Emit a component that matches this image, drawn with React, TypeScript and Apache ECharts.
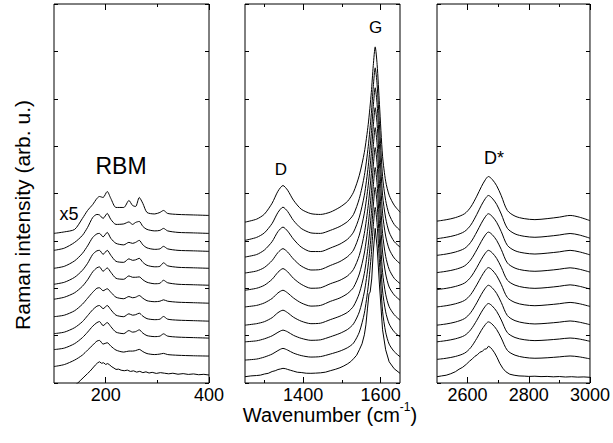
import React, { useEffect, useRef } from "react";
import * as echarts from "echarts";

const FONT = "'Liberation Sans', Arial, Helvetica, sans-serif";

// ---------- Panel 1: RBM region (x 100-400 cm-1) ----------
const RBM_X = [100, 120, 140, 155, 165, 175, 183, 188, 195, 203, 210, 220, 235, 245, 252, 258, 265, 272, 280, 295, 305, 312, 320, 340, 370, 400];
const RBM_10 = [150, 151.5, 154, 165, 173, 179, 185, 187, 186, 192, 185, 176, 176, 183, 178, 177, 186, 180, 171, 169.5, 171, 173, 170, 169, 168.5, 168];
const RBM_9 = [133, 135.2, 141, 148, 156, 166, 169, 168.5, 165, 170, 164, 159, 159.5, 161.5, 159, 161, 162, 157, 154, 152.5, 153, 155, 152.5, 151, 150.5, 150];
const RBM_8 = [115, 117, 122.5, 130, 137.5, 146, 149.5, 150, 146.5, 151, 145, 140, 138.5, 141, 140, 141, 143, 138.5, 135.5, 134, 134.5, 137, 134.5, 133, 132.5, 132];
const RBM_7 = [99, 101, 106, 113, 120, 129, 132.5, 133, 129, 133, 128, 122, 121, 124.5, 123, 123.5, 125, 121, 118, 116.5, 117, 120.5, 117.5, 116, 115.5, 115];
const RBM_6 = [84, 86, 90.5, 97, 103.5, 111.5, 115.5, 116.4, 112, 115.4, 111, 105, 104, 107.4, 106, 106, 106.4, 103.5, 101, 99.5, 100, 103, 100.5, 99, 98.5, 98];
const RBM_5 = [66.5, 68, 72.5, 79, 85, 91, 95, 95.5, 92.5, 94.5, 91, 86, 84.5, 86.7, 85.5, 86, 87.7, 85, 82.5, 81.5, 82, 83.4, 82, 81, 80.5, 80];
const RBM_4 = [49.5, 51, 55.5, 61.5, 67.5, 73.5, 77, 77.7, 74.5, 77.7, 73.5, 68, 66.5, 69.4, 68, 68.5, 70, 67, 64.5, 63.5, 64, 66.7, 64, 63, 62.5, 62];
const RBM_3 = [33.5, 35, 39.5, 45.5, 51, 57, 60.5, 61.6, 57.5, 60.6, 56.5, 51, 49.5, 52.6, 51, 51.5, 53.3, 50, 47.5, 46.5, 47, 49.3, 47, 46, 45.5, 45];
const RBM_2 = [16.5, 18.5, 23, 28, 33, 38, 42, 42.7, 39, 40.4, 37, 33, 31, 32, 32, 32.5, 33.7, 31.5, 29.5, 28.5, 29, 29.7, 28.5, 27.8, 27.3, 27];
const RBM_RAW_X = [138, 146, 152, 158, 165, 170, 175, 180, 184, 188, 192, 196, 200, 204, 208, 212, 216, 220, 225, 230, 236, 242, 248, 254, 260, 266, 272, 278, 284, 290, 298, 306, 314, 322, 330, 340, 350, 360, 370, 380, 390, 400];
const RBM_RAW = [-3, 0, 3, 6, 9.5, 12, 15, 18, 20, 21.3, 19.8, 20.3, 18.6, 19.5, 18, 16.2, 15, 13.6, 13.9, 12.8, 12.3, 12.9, 11.6, 12.2, 10.9, 11.7, 10.4, 11.2, 10, 10.7, 9.6, 10.4, 9.8, 9.2, 9.8, 8.8, 9.4, 8.6, 9.1, 8.3, 8.7, 8];

// ---------- Panel 2: D and G bands (x 1250-1650 cm-1) ----------
const DG_X = [1250, 1280, 1300, 1320, 1335, 1348, 1360, 1375, 1395, 1420, 1445, 1470, 1495, 1515, 1530, 1545, 1558, 1568, 1576, 1581, 1586, 1591, 1597, 1605, 1613, 1622, 1635, 1650];
const DG_10 = [161.3, 164.3, 169.3, 180.3, 192.3, 198, 193.3, 183.3, 174.3, 169.8, 169, 171.3, 176.3, 182.3, 191.3, 208.3, 231.3, 259.3, 291.3, 318.3, 337, 319.3, 279.3, 227.3, 202.3, 188.3, 178.3, 171.3];
const DG_9 = [143, 146, 150.5, 160, 171, 176.3, 172, 163, 155, 150.5, 150, 153, 157, 162, 169, 185, 208, 237, 270, 297, 316, 299, 259, 207, 183, 169, 159, 153];
const DG_8 = [126.3, 128.8, 133.3, 141.8, 151.8, 156.3, 152.3, 144.3, 136.3, 131.8, 131.8, 135.3, 139.3, 144.3, 151.3, 166.3, 188.3, 217.3, 250.3, 277.3, 296, 279.3, 239.3, 188.3, 165.3, 151.3, 141.8, 136.3];
const DG_7 = [110.3, 112.3, 115.8, 122.8, 130.8, 134.7, 131.3, 124.3, 117.3, 113.3, 113.8, 117.8, 121.8, 126.8, 133.3, 148.3, 170.3, 198.3, 230.3, 257.3, 276, 259.3, 220.3, 170.3, 147.3, 134.3, 125.3, 119.7];
const DG_6 = [93, 95, 98, 104, 111, 114.7, 111.5, 105, 99, 95, 95.5, 99.5, 103, 107.5, 114, 128, 150, 178, 210, 237, 256, 239, 200, 150, 127, 114, 105, 99.7];
const DG_5 = [76.3, 77.8, 80.3, 84.8, 90.3, 93, 90.3, 85.3, 80.3, 77.1, 77.8, 81.8, 85.3, 89.8, 95.8, 109.3, 130.3, 158.3, 190.3, 217.3, 236, 219.3, 180.3, 131.3, 109.3, 96.3, 88.3, 83];
const DG_4 = [58, 59.5, 61.5, 65.5, 70.5, 73, 70.5, 66, 62, 59.5, 60, 63.5, 67, 71, 77, 90, 110, 138, 170, 197, 216, 199, 160, 111, 89, 76.5, 68.5, 63];
const DG_3 = [41.3, 42.3, 44.3, 47.3, 50.8, 53, 51.3, 47.8, 44.8, 42.8, 43.3, 46.3, 49.8, 53.8, 59.3, 71.3, 91.3, 118.3, 150.3, 177.3, 196, 179.3, 141.3, 92.3, 71.3, 59.3, 51.3, 46.3];
const DG_2 = [23, 24, 26, 29, 32.5, 34.7, 33, 30, 27.5, 26, 26.5, 29, 32, 35.5, 40, 51, 70, 97, 129, 157, 176, 159, 121, 72, 51, 39, 31.5, 26.3];
const DG_RAW_X = [1250, 1265, 1280, 1290, 1300, 1310, 1320, 1328, 1335, 1342, 1348, 1355, 1360, 1368, 1375, 1385, 1395, 1408, 1420, 1432, 1445, 1458, 1470, 1483, 1495, 1505, 1515, 1523, 1530, 1538, 1545, 1552, 1558, 1562, 1566, 1570, 1573, 1577, 1581, 1586, 1591, 1597, 1605, 1613, 1622, 1635, 1650];
const DG_RAW = [6.3, 7.1, 7.5, 7.9, 9, 9.7, 11.5, 12.3, 13.5, 14.1, 14.7, 14.3, 13.6, 12.7, 11.9, 10.8, 10.5, 9.8, 9.7, 9.9, 10.2, 10.9, 12.3, 13.7, 15.3, 17.1, 19.3, 21.5, 24.3, 27.8, 33.3, 39.3, 48.3, 58.3, 74.3, 89.3, 91.3, 104.3, 131.3, 155, 136.3, 98.3, 53.3, 33.3, 21.3, 14.3, 9.7];

// ---------- Panel 3: D* band (x 2500-3000 cm-1) ----------
const DS_X = [2500, 2530, 2560, 2590, 2610, 2630, 2645, 2658, 2668, 2680, 2695, 2710, 2730, 2755, 2785, 2820, 2860, 2900, 2935, 2965, 3000];
const DS_10 = [162.3, 163.7, 165.8, 169.7, 176.3, 187.3, 196.8, 203.8, 207, 204.3, 197.8, 187.8, 173, 167.3, 164.8, 163.8, 164.8, 166.3, 168, 166.3, 162.8];
const DS_9 = [144.7, 146.1, 148.1, 151.9, 158.2, 169, 178.2, 184.9, 188, 185.4, 179.1, 169.4, 155.1, 149.5, 147.1, 146.1, 147, 148.4, 149.9, 148.4, 145.2];
const DS_8 = [128, 129.3, 131.3, 134.9, 141, 151.4, 160.2, 166.7, 169.7, 167.2, 161.1, 151.8, 138, 132.6, 130.3, 129.3, 130.2, 131.5, 133, 131.5, 128.5];
const DS_7 = [110.7, 112, 113.9, 117.4, 123.4, 133.5, 142, 148.4, 151.3, 148.9, 143, 133.9, 120.4, 115.2, 112.9, 112, 112.8, 114.1, 115.5, 114.1, 111.2];
const DS_6 = [93.7, 94.9, 96.8, 100.2, 106, 115.7, 124, 130.2, 133, 130.7, 124.9, 116.1, 103.1, 98.1, 95.8, 94.9, 95.7, 97, 98.4, 97, 94.2];
const DS_5 = [76.3, 77.5, 79.4, 82.8, 88.6, 98.4, 106.7, 112.9, 115.7, 113.4, 107.6, 98.8, 85.7, 80.7, 78.4, 77.5, 78.3, 79.5, 80.8, 79.5, 76.8];
const DS_4 = [58, 59.2, 61.1, 64.6, 70.5, 80.4, 88.9, 95.1, 98, 95.6, 89.8, 80.8, 67.6, 62.5, 60.2, 59.2, 59.9, 61, 62.2, 61, 58.5];
const DS_3 = [41.3, 42.5, 44.3, 47.6, 53.3, 62.8, 71, 77, 79.7, 77.4, 71.8, 63.2, 50.5, 45.6, 43.4, 42.5, 43.1, 44.1, 45.1, 44.1, 41.8];
const DS_2 = [23.7, 24.8, 26.6, 29.9, 35.4, 44.7, 52.8, 58.6, 61.3, 59.1, 53.6, 45.1, 32.7, 27.9, 25.7, 24.8, 25.3, 26.2, 27.1, 26.2, 24.2];
const DS_RAW_X = [2500, 2515, 2530, 2545, 2560, 2572, 2584, 2596, 2606, 2616, 2624, 2632, 2640, 2648, 2655, 2662, 2668, 2674, 2680, 2688, 2696, 2705, 2715, 2725, 2738, 2752, 2768, 2785, 2800, 2820, 2840, 2860, 2880, 2900, 2920, 2940, 2960, 2980, 3000];
const DS_RAW = [6.3, 7.1, 7.8, 9.3, 11.3, 13.8, 15.8, 18.8, 21.8, 24.3, 26.8, 28.3, 30.8, 31.8, 33.8, 34.3, 36.8, 35.8, 33.8, 30.3, 25.8, 19.8, 14.8, 11.3, 8.8, 7.8, 7.1, 6.9, 6.6, 6.8, 6.4, 6.6, 6.2, 6.5, 6, 6.3, 5.9, 6.1, 5.7];

// ---------- Axes ----------
const X_RANGES = [[100, 400], [1250, 1650], [2500, 3000]];
const X_MAJOR = [[200, 400], [1400, 1600], [2600, 2800, 3000]];
const X_MINOR = [[300], [1300, 1500], [2700, 2900]];
const Y_MAX = 380;
const Y_STEP = 47.5;

const PANEL_LEFT = [54, 245, 437];
const PANEL_WIDTH = 155;

export default function App() {
  const ref = useRef<HTMLDivElement>(null);

  useEffect(() => {
    if (!ref.current) return;
    const chart = echarts.init(ref.current, null, { renderer: "svg" });

    const grids = PANEL_LEFT.map((l) => ({
      left: l,
      top: 4,
      width: PANEL_WIDTH,
      height: 379,
      show: true,
      borderColor: "#000",
      borderWidth: 1,
      backgroundColor: "transparent",
    }));

    const xAxes: any[] = [];
    const yAxes: any[] = [];
    for (let g = 0; g < 3; g++) {
      const [mn, mx] = X_RANGES[g];
      const base = {
        gridIndex: g,
        type: "value",
        min: mn,
        max: mx,
        axisLine: { show: false },
        splitLine: { show: false },
      };
      xAxes.push({
        ...base,
        position: "bottom",
        axisTick: { show: true, inside: true, length: 6, customValues: X_MAJOR[g], lineStyle: { color: "#000", width: 1 } },
        axisLabel: {
          show: true,
          customValues: X_MAJOR[g],
          formatter: (v: number) => String(v),
          color: "#000",
          fontSize: 18,
          fontFamily: FONT,
          margin: 3,
          showMinLabel: true,
          showMaxLabel: true,
        },
      });
      xAxes.push({
        ...base,
        position: "bottom",
        axisTick: { show: true, inside: true, length: 3, customValues: X_MINOR[g], lineStyle: { color: "#000", width: 1 } },
        axisLabel: { show: false },
      });
      xAxes.push({
        ...base,
        position: "top",
        axisTick: { show: true, inside: true, length: 6, customValues: X_MAJOR[g], lineStyle: { color: "#000", width: 1 } },
        axisLabel: { show: false },
      });
      xAxes.push({
        ...base,
        position: "top",
        axisTick: { show: true, inside: true, length: 3, customValues: X_MINOR[g], lineStyle: { color: "#000", width: 1 } },
        axisLabel: { show: false },
      });
      const ybase = {
        gridIndex: g,
        type: "value",
        min: 0,
        max: Y_MAX,
        interval: Y_STEP,
        axisLine: { show: false },
        splitLine: { show: false },
        axisLabel: { show: false },
        axisTick: { show: true, inside: true, length: 4, lineStyle: { color: "#000", width: 1 } },
      };
      yAxes.push({ ...ybase, position: "left" });
      yAxes.push({ ...ybase, position: "right" });
    }

    const mk = (xs: number[], ys: number[], g: number, smooth: number | boolean) => ({
      type: "line",
      xAxisIndex: g * 4,
      yAxisIndex: g * 2,
      data: xs.map((x, i) => [x, ys[i]]),
      symbol: "none",
      showSymbol: false,
      smooth,
      clip: true,
      silent: true,
      lineStyle: { color: "#000", width: 1 },
      animation: false,
    });

    const rbm = [RBM_10, RBM_9, RBM_8, RBM_7, RBM_6, RBM_5, RBM_4, RBM_3, RBM_2];
    const dg = [DG_10, DG_9, DG_8, DG_7, DG_6, DG_5, DG_4, DG_3, DG_2];
    const ds = [DS_10, DS_9, DS_8, DS_7, DS_6, DS_5, DS_4, DS_3, DS_2];

    const series: any[] = [
      ...rbm.map((ys) => mk(RBM_X, ys, 0, 0.25)),
      mk(RBM_RAW_X, RBM_RAW, 0, false),
      ...dg.map((ys) => mk(DG_X, ys, 1, 0.25)),
      mk(DG_RAW_X, DG_RAW, 1, false),
      ...ds.map((ys) => mk(DS_X, ys, 2, 0.3)),
      mk(DS_RAW_X, DS_RAW, 2, false),
    ];

    const txt = (text: string, x: number, y: number, size: number, rotation = 0) => ({
      type: "text",
      x,
      y,
      rotation,
      silent: true,
      style: {
        text,
        fill: "#000",
        font: `${size}px ${FONT}`,
        align: "center",
        verticalAlign: "middle",
      },
    });

    chart.setOption({
      animation: false,
      backgroundColor: "#fff",
      grid: grids,
      xAxis: xAxes,
      yAxis: yAxes,
      series,
      graphic: [
        txt("RBM", 121, 166, 23),
        txt("x5", 69, 214, 18),
        txt("D", 281, 169, 17),
        txt("G", 375.5, 27.5, 17),
        txt("D*", 494, 157.5, 18),
        txt("Raman intensity (arb. u.)", 22, 215, 21, Math.PI / 2),
        {
          type: "text",
          x: 330,
          y: 413,
          silent: true,
          style: {
            text: "{a|Wavenumber (cm}{b|-1}{a|)}",
            align: "center",
            verticalAlign: "middle",
            fill: "#000",
            rich: {
              a: { fontSize: 20, fontFamily: FONT, fill: "#000", lineHeight: 24, verticalAlign: "bottom" },
              b: { fontSize: 12, fontFamily: FONT, fill: "#000", lineHeight: 24, verticalAlign: "top" },
            },
          },
        },
      ],
    });

    return () => chart.dispose();
  }, []);

  return (
    <div
      ref={ref}
      style={{ position: "fixed", left: 0, top: 0, width: 613, height: 443, background: "#fff" }}
    />
  );
}
